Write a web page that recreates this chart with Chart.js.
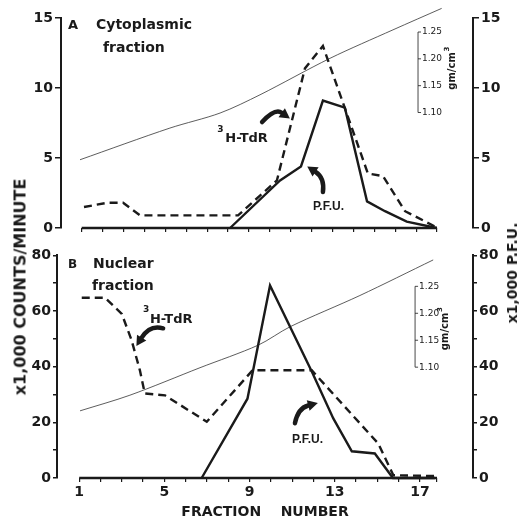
<!DOCTYPE html>
<html><head><meta charset="utf-8">
<script src="https://cdn.jsdelivr.net/npm/chart.js@4.4.1/dist/chart.umd.min.js"></script>
<style>
html,body{margin:0;padding:0;background:#fff;}
#wrap{position:relative;width:525px;height:524px;overflow:hidden;background:#fff;}
#cA{position:absolute;left:0;top:0;}
#cB{position:absolute;left:0;top:245px;}
.ttl{position:absolute;font-family:"DejaVu Sans";font-weight:bold;color:#1a1a1a;white-space:nowrap;transform:translate(-50%,-50%) rotate(-90deg);}
#yl{left:20px;top:287px;font-size:16px;}
#yr{left:512px;top:273px;font-size:14px;}
</style></head>
<body><div id="wrap">
<canvas id="cA" width="525" height="245"></canvas>
<canvas id="cB" width="525" height="279"></canvas>
<div class="ttl" id="yl">x1,000 COUNTS/MINUTE</div>
<div class="ttl" id="yr">x1,000 P.F.U.</div>
</div>
<script>
// ---------- data ----------
const TOP_FRACTION_TICKS = [1,2,3,4,5,6,7,8,9,10,11,12,13,14,15,16,17,18];
const BOTTOM_FRACTION_TICKS = [1,2,3,4,5,6,7,8,9,10,11,12,13,14,15,16,17,17.8];
const FRACTION_LABELS = [1,5,9,13,17];
const DENSITY_TICKS = [1.10,1.15,1.20,1.25];

// Panel A: cytoplasmic fraction
const A_TDR_FRACTION = [1.11,2.21,2.98,3.79,8.48,10.34,11.68,12.54,14.69,15.42,16.47,17.91];
const A_TDR_COUNTS   = [1.5, 1.8, 1.8, 0.9, 0.9, 3.4, 11.4, 13.0, 3.9, 3.7, 1.2, 0.1];
const A_PFU_FRACTION = [8.1,10.49,11.49,12.54,13.59,14.65,15.51,16.55,17.99];
const A_PFU_VALUE    = [0,  3.4,  4.4,  9.1,  8.6,  1.9,  1.2,  0.45, 0];
const A_DENS_FRACTION = [0.92,5.22,7.62,9.53,12.88,15.89,18.22];
const A_DENSITY       = [1.012,1.071,1.099,1.133,1.201,1.254,1.294];

// Panel B: nuclear fraction
const B_TDR_FRACTION = [1.12,2.21,3.0,3.46,3.85,4.08,5.03,6.99,9.14,11.92,15.04,15.75,17.7];
const B_TDR_COUNTS   = [64.8,64.8,59,49.5,38.7,30.4,29.7,20.2,38.7,38.7,12.4,1.0,0.7];
const B_PFU_FRACTION = [6.75,8.9,9.96,11.92,12.93,13.8,14.88,15.73,17.7];
const B_PFU_VALUE    = [0, 28.5,69.2,38.3, 21.4, 9.6, 8.8,  0,    0];
const B_DENS_FRACTION = [1.04,3.38,6.67,9.41,10.9,14.18,17.62];
const B_DENSITY       = [1.019,1.048,1.099,1.141,1.175,1.233,1.299];

// ---------- helpers ----------
const INK = '#1a1a1a';
const FONT = 'DejaVu Sans';
const pts = (xs, ys) => xs.map((x, i) => ({x, y: ys[i]}));

function drawArrow(ctx, S, C, T) {
  const dx = T.x - C.x, dy = T.y - C.y, L = Math.hypot(dx, dy) || 1;
  const ux = dx / L, uy = dy / L, hl = 9, hw = 5.5;
  const B = {x: T.x - ux * hl, y: T.y - uy * hl};
  ctx.lineWidth = 4.5; ctx.lineCap = 'round';
  ctx.beginPath(); ctx.moveTo(S.x, S.y); ctx.quadraticCurveTo(C.x, C.y, B.x, B.y); ctx.stroke();
  ctx.beginPath(); ctx.moveTo(T.x + ux, T.y + uy);
  ctx.lineTo(B.x - uy * hw, B.y + ux * hw); ctx.lineTo(B.x + uy * hw, B.y - ux * hw);
  ctx.closePath(); ctx.fill();
}

const decor = {
  id: 'decor',
  afterDatasetsDraw(chart, args, o) {
    const {ctx, chartArea} = chart;
    const xs = chart.scales.x, ys = chart.scales.y, ds = chart.scales.dens;
    const P = (fx, vy) => ({x: xs.getPixelForValue(fx), y: ys.getPixelForValue(vy)});
    ctx.save();
    ctx.strokeStyle = INK; ctx.fillStyle = INK;
    // x axis line
    const y0 = ys.getPixelForValue(0);
    ctx.lineWidth = 2.4;
    ctx.beginPath(); ctx.moveTo(xs.getPixelForValue(o.axisStart), y0); ctx.lineTo(xs.getPixelForValue(o.axisEnd), y0); ctx.stroke();
    // inset density scale
    const ix = xs.getPixelForValue(o.insetAt);
    const yt = ds.getPixelForValue(DENSITY_TICKS[DENSITY_TICKS.length - 1]);
    const yb = ds.getPixelForValue(DENSITY_TICKS[0]);
    ctx.lineWidth = 0.8;
    ctx.beginPath(); ctx.moveTo(ix, yt); ctx.lineTo(ix, yb); ctx.stroke();
    ctx.font = '9px "' + FONT + '"'; ctx.textBaseline = 'middle'; ctx.textAlign = 'left';
    DENSITY_TICKS.forEach(t => {
      const y = ds.getPixelForValue(t);
      ctx.beginPath(); ctx.moveTo(ix, y); ctx.lineTo(ix + 3, y); ctx.stroke();
      ctx.fillText(t.toFixed(2), ix + 4, y);
    });
    ctx.save();
    ctx.translate(ix + o.unitDx, ds.getPixelForValue(o.unitAt));
    ctx.rotate(-Math.PI / 2);
    ctx.font = 'bold 10px "' + FONT + '"'; ctx.textAlign = 'center'; ctx.textBaseline = 'middle';
    const uw = ctx.measureText('gm/cm').width;
    ctx.fillText('gm/cm', -3, 0);
    ctx.font = 'bold 7px "' + FONT + '"';
    ctx.fillText('3', -3 + uw / 2 + 3, -5);
    ctx.restore();
    // panel titles
    ctx.textAlign = 'left'; ctx.textBaseline = 'alphabetic';
    o.titles.forEach(t => {
      ctx.font = 'bold ' + t.size + 'px "' + FONT + '"';
      ctx.fillText(t.text, chartArea.left + t.dx, chartArea.top + t.dy);
    });
    // curve labels
    o.labels.forEach(t => {
      const p = P(t.fx, t.v);
      ctx.font = 'bold ' + t.size + 'px "' + (t.family || FONT) + '"';
      ctx.fillText(t.text, p.x, p.y);
    });
    // arrows
    o.arrows.forEach(a => drawArrow(ctx, P(a[0], a[1]), P(a[2], a[3]), P(a[4], a[5])));
    ctx.restore();
  }
};

function build(canvasId, c) {
  const tickFont = {family: FONT, weight: 'bold', size: 14};
  const yAxis = (pos, width) => ({
    type: 'linear', position: pos, min: 0, max: c.yMax,
    afterFit: s => { s.width = width; },
    ticks: {stepSize: c.yStep, color: INK, font: tickFont, padding: 2,
            callback: v => (v % c.labelEvery === 0 ? String(v) : '')},
    grid: {drawOnChartArea: false, drawTicks: true, tickLength: c.yTick, color: INK, lineWidth: 1.5},
    border: {display: true, color: INK, width: 2}
  });
  return new Chart(document.getElementById(canvasId), {
    type: 'line',
    data: {datasets: [
      {data: c.tdr, borderColor: INK, borderWidth: 2.4, borderDash: [8, 5], pointRadius: 0, tension: 0, fill: false, yAxisID: 'y', clip: false},
      {data: c.pfu, borderColor: INK, borderWidth: 2.4, pointRadius: 0, tension: 0, fill: false, yAxisID: 'y', clip: false},
      {data: c.dens, borderColor: '#333', borderWidth: 0.8, pointRadius: 0, tension: 0.3, fill: false, yAxisID: 'dens', clip: false}
    ]},
    options: {
      responsive: false, animation: false, devicePixelRatio: 1,
      layout: {padding: {top: c.padTop, left: 0, right: 0, bottom: 0}},
      plugins: {legend: {display: false}, tooltip: {enabled: false}, decor: c.decor},
      scales: {
        x: {
          type: 'linear', min: c.xMin, max: c.xMax,
          afterFit: s => { s.height = c.xHeight; },
          afterBuildTicks: s => { s.ticks = c.xTicks.map(v => ({value: v})); },
          ticks: {autoSkip: false, maxRotation: 0, color: INK, font: tickFont, padding: 2,
                  callback: v => (c.showXLabels && FRACTION_LABELS.includes(v) ? String(v) : '')},
          grid: {drawOnChartArea: false, drawTicks: true, tickLength: 4, color: INK, lineWidth: 1.2},
          border: {display: false},
          title: {display: !!c.xTitle, text: c.xTitle || '', color: INK,
                  font: {family: FONT, weight: 'bold', size: 14}, padding: {top: 0, bottom: 3}}
        },
        y: yAxis('left', c.leftW),
        y2: yAxis('right', 52),
        dens: {type: 'linear', display: false, min: c.densMin, max: c.densMax}
      }
    },
    plugins: [decor]
  });
}

build('cA', {
  tdr: pts(A_TDR_FRACTION, A_TDR_COUNTS), pfu: pts(A_PFU_FRACTION, A_PFU_VALUE), dens: pts(A_DENS_FRACTION, A_DENSITY),
  xMin: 0.01, xMax: 19.72, xTicks: TOP_FRACTION_TICKS, showXLabels: false, xHeight: 17, padTop: 18,
  yMax: 15, yStep: 5, labelEvery: 5, yTick: 6, leftW: 61, densMin: 0.8848, densMax: 1.2761,
  decor: {
    axisStart: 1, axisEnd: 18, insetAt: 17.09, unitDx: 34, unitAt: 1.183,
    titles: [{text: 'A', dx: 7, dy: 11, size: 13}, {text: 'Cytoplasmic', dx: 35, dy: 11, size: 14}, {text: 'fraction', dx: 42, dy: 34, size: 14}],
    labels: [{text: 'H-TdR', fx: 7.87, v: 6.14, size: 13}, {text: '3', fx: 7.48, v: 6.86, size: 9},
             {text: 'P.F.U.', fx: 12.06, v: 1.29, size: 12, family: 'Liberation Sans'}],
    arrows: [[9.63, 7.57, 10.25, 8.57, 10.92, 7.86], [12.54, 2.57, 12.63, 3.57, 11.83, 4.36]]
  }
});

build('cB', {
  tdr: pts(B_TDR_FRACTION, B_TDR_COUNTS), pfu: pts(B_PFU_FRACTION, B_PFU_VALUE), dens: pts(B_DENS_FRACTION, B_DENSITY),
  xMin: -0.042, xMax: 19.49, xTicks: BOTTOM_FRACTION_TICKS, showXLabels: true, xHeight: 46, padTop: 10,
  xTitle: 'FRACTION    NUMBER',
  yMax: 80, yStep: 10, labelEvery: 20, yTick: 4, leftW: 57, densMin: 0.8944, densMax: 1.3074,
  decor: {
    axisStart: 1, axisEnd: 17.8, insetAt: 16.77, unitDx: 30, unitAt: 1.172,
    titles: [{text: 'B', dx: 11, dy: 13, size: 12}, {text: 'Nuclear', dx: 36, dy: 13, size: 14}, {text: 'fraction', dx: 35, dy: 35, size: 14}],
    labels: [{text: 'H-TdR', fx: 4.32, v: 55.6, size: 13}, {text: '3', fx: 4.0, v: 59.5, size: 9},
             {text: 'P.F.U.', fx: 10.99, v: 12.5, size: 12, family: 'Liberation Sans'}],
    arrows: [[4.94, 53.8, 4.32, 55.2, 3.71, 47.7], [11.13, 19.7, 11.27, 25.1, 12.16, 26.9]]
  }
});
</script>
</body></html>
